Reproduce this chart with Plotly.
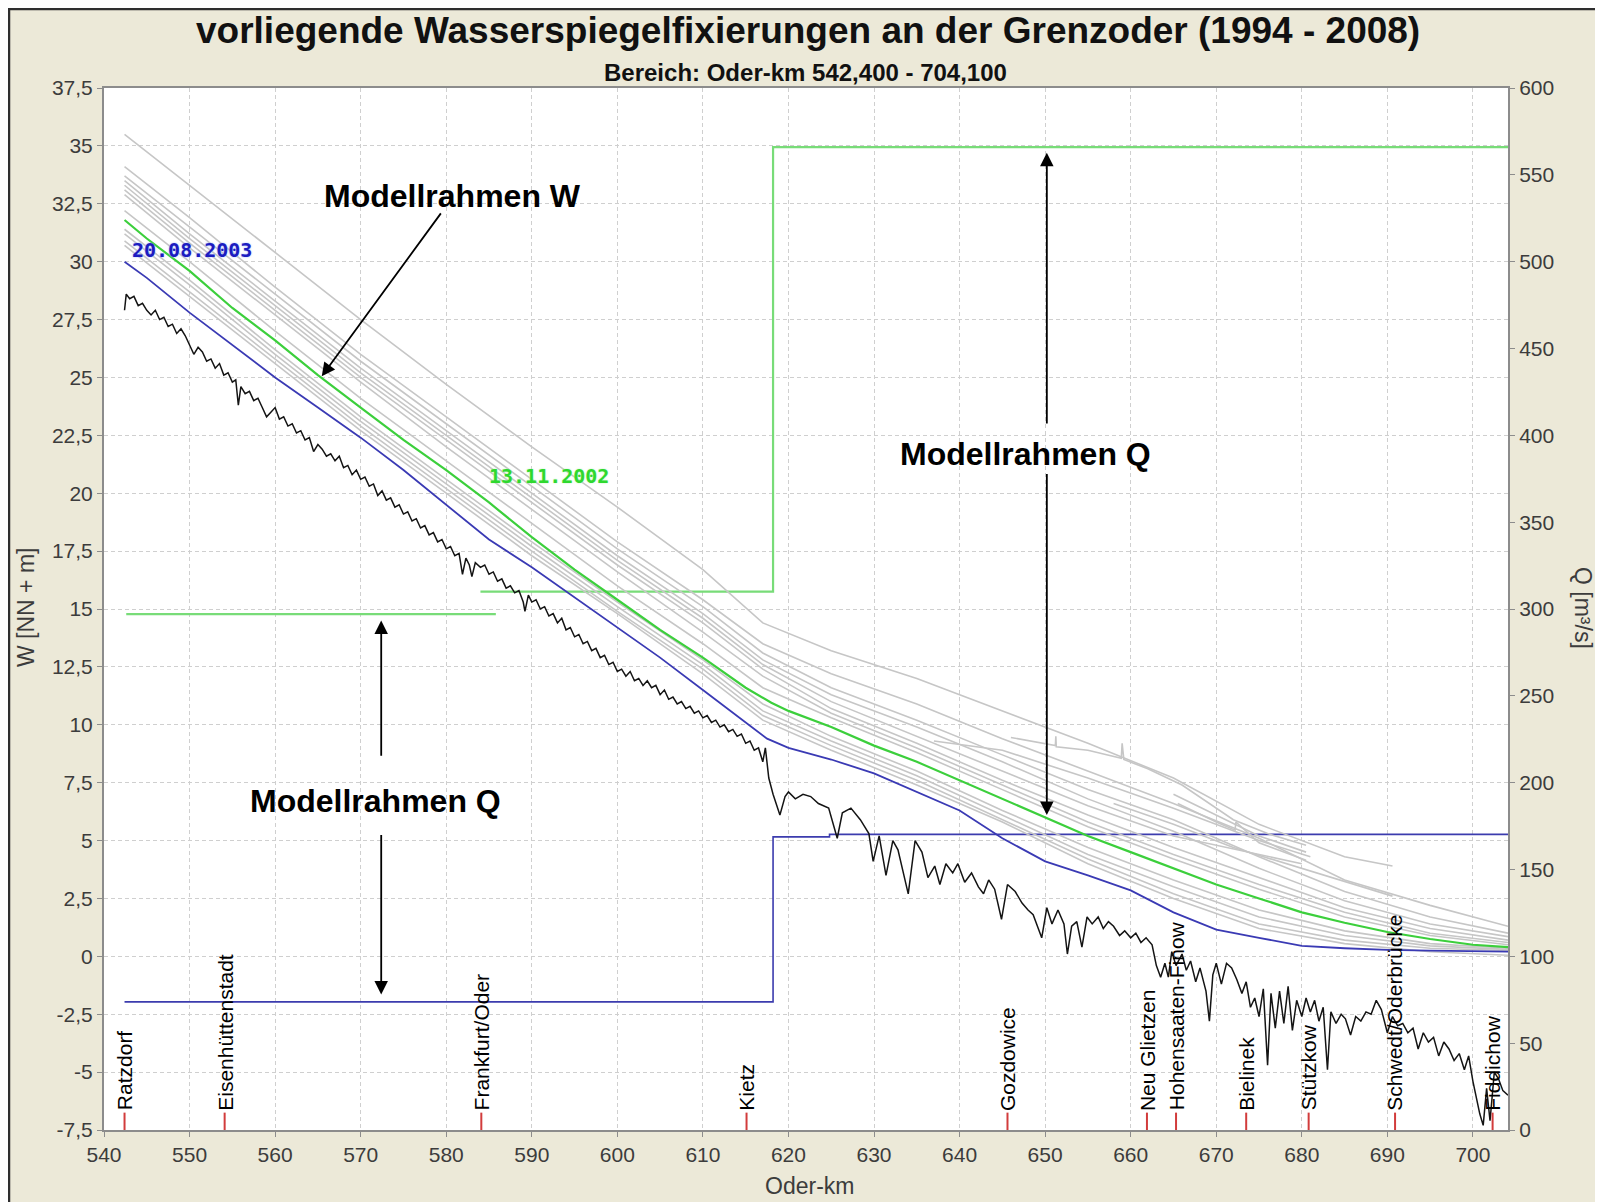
import plotly.graph_objects as go

# ------------------------------------------------------------------ data
X_RANGE = [540, 704.1]
W_RANGE = [-7.5, 37.5]
Q_RANGE = [0, 600]

km_ticks = [540, 550, 560, 570, 580, 590, 600, 610, 620, 630, 640, 650, 660, 670, 680, 690, 700]
w_tickvals = [-7.5, -5, -2.5, 0, 2.5, 5, 7.5, 10, 12.5, 15, 17.5, 20, 22.5, 25, 27.5, 30, 32.5, 35, 37.5]
w_ticktext = ["-7,5", "-5", "-2,5", "0", "2,5", "5", "7,5", "10", "12,5", "15", "17,5", "20",
              "22,5", "25", "27,5", "30", "32,5", "35", "37,5"]
q_ticks = [0, 50, 100, 150, 200, 250, 300, 350, 400, 450, 500, 550, 600]

stations = ["Ratzdorf", "Eisenhüttenstadt", "Frankfurt/Oder", "Kietz", "Gozdowice", "Neu Glietzen",
            "Hohensaaten-Finow", "Bielinek", "Stützkow", "Schwedt/Oderbrücke", "Fiddichow"]
station_km = [542.4, 554.1, 584.1, 615.1, 645.6, 661.9, 665.3, 673.5, 680.8, 690.9, 702.3]

# gray water-level fixings (W in m NN)
gray_km = [542.4, 550, 560, 570, 580, 590, 600, 610, 617, 625, 635, 645, 655, 665, 675, 685, 695, 704.1]
g2_w = [34.1, 31.9, 28.9, 26.0, 23.3, 20.6, 17.9, 15.4, 13.5, 12.2, 10.9, 9.4, 8.0, 6.6, 5.1, 3.3, 2.2, 1.3]
g3_w = [33.7, 31.5, 28.6, 25.7, 23.0, 20.3, 17.6, 15.1, 13.1, 11.6, 10.2, 8.7, 7.2, 5.9, 4.3, 2.8, 1.7, 1.0]
g4_w = [33.5, 31.2, 28.3, 25.4, 22.7, 20.0, 17.3, 14.8, 12.8, 11.3, 9.9, 8.4, 6.8, 5.4, 3.8, 2.4, 1.4, 0.85]
g6_w = [33.1, 30.8, 27.9, 25.0, 22.3, 19.6, 16.9, 14.4, 12.4, 10.7, 9.2, 7.6, 6.1, 4.7, 3.4, 2.1, 1.2, 0.7]
g7_w = [32.9, 30.6, 27.7, 24.8, 22.0, 19.3, 16.6, 14.0, 12.1, 10.5, 9.0, 7.4, 5.8, 4.4, 3.1, 1.9, 1.0, 0.6]
g8_w = [32.2, 30.0, 27.0, 24.1, 21.4, 18.7, 16.0, 13.5, 11.6, 10.3, 8.8, 7.2, 5.6, 4.2, 2.9, 1.7, 0.9, 0.5]
l1_w = [31.4, 29.2, 26.2, 23.3, 20.6, 17.9, 15.3, 12.8, 10.9, 9.5, 8.0, 6.3, 4.7, 3.3, 2.0, 1.1, 0.55, 0.35]
l2_w = [31.2, 29.0, 26.0, 23.1, 20.4, 17.7, 15.1, 12.6, 10.6, 9.3, 7.8, 6.1, 4.4, 3.0, 1.7, 0.9, 0.45, 0.3]
l3_w = [30.9, 28.7, 25.8, 22.9, 20.2, 17.5, 14.9, 12.4, 10.4, 9.1, 7.6, 5.9, 4.2, 2.7, 1.4, 0.7, 0.35, 0.25]
l4_w = [30.7, 28.5, 25.6, 22.7, 20.0, 17.3, 14.8, 12.2, 10.2, 8.9, 7.4, 5.8, 4.0, 2.5, 1.2, 0.55, 0.2, 0.05]

g1_km = [542.4, 550, 560, 570, 580, 590, 600, 610, 617, 625, 635, 645, 655, 665, 675, 685, 690.6]
g1_w = [35.5, 33.3, 30.4, 27.5, 24.7, 22.0, 19.4, 16.7, 14.4, 13.2, 12.0, 10.6, 9.2, 7.7, 5.7, 4.3, 3.9]
g5_km = [542.4, 550, 560, 570, 580, 590, 600, 610, 617, 625, 635, 645, 655, 665, 675, 680]
g5_w = [33.3, 31.0, 28.1, 25.2, 22.5, 19.8, 17.1, 14.6, 12.6, 11.0, 9.5, 8.0, 6.5, 5.2, 4.4, 4.0]

p1_km = [646.0, 650.0, 651.2, 651.25, 651.3, 655.0, 658.9, 659.0, 659.2, 662.0, 666.0, 672.0, 676.0, 680.5]
p1_w = [9.45, 9.2, 9.1, 9.5, 9.05, 8.9, 8.55, 9.2, 8.5, 8.1, 7.4, 5.9, 5.3, 4.8]
p2_km = [637.0, 645.0, 655.0, 665.0, 675.0, 681.0]
p2_w = [9.3, 8.9, 7.7, 6.4, 5.0, 4.3]
p3_km = [665.0, 670.0, 675.0, 680.5]
p3_w = [7.0, 6.1, 5.2, 4.5]
p4_km = [665.5, 670.0, 672.2, 672.3, 675.0, 680.5]
p4_w = [6.6, 5.8, 5.45, 5.8, 4.9, 4.15]
p5_km = [658.0, 665.0, 672.0, 680.0, 686.0, 690.6]
p5_w = [6.6, 5.7, 4.7, 3.8, 3.1, 2.6]

# fixing 13.11.2002 (green) and 20.08.2003 (blue)
green_km = [542.4, 545, 550, 555, 560, 565, 570, 575, 580, 585, 590, 595, 600, 605, 610, 615, 618,
            620, 625, 630, 635, 640, 645, 650, 655, 660, 665, 670, 675, 680, 685, 690, 695, 700, 704.1]
green_w = [31.8, 31.0, 29.6, 28.0, 26.6, 25.1, 23.7, 22.3, 21.0, 19.6, 18.1, 16.7, 15.4, 14.1, 12.9,
           11.6, 10.95, 10.6, 9.9, 9.1, 8.4, 7.6, 6.8, 6.0, 5.2, 4.5, 3.8, 3.1, 2.5, 1.9, 1.45, 1.05,
           0.75, 0.5, 0.4]
blue_km = [542.4, 545, 550, 555, 560, 565, 570, 575, 580, 585, 590, 595, 600, 605, 610, 615, 617.5,
           620, 625, 630, 635, 640, 645, 650, 655, 660, 665, 670, 675, 680, 685, 690, 695, 700, 704.1]
blue_w = [30.0, 29.3, 27.8, 26.4, 25.0, 23.7, 22.4, 21.0, 19.5, 18.0, 16.8, 15.5, 14.2, 12.9, 11.5,
          10.1, 9.4, 9.0, 8.5, 7.9, 7.1, 6.3, 5.1, 4.1, 3.5, 2.85, 1.9, 1.15, 0.8, 0.45, 0.35, 0.28,
          0.25, 0.22, 0.2]

# river bed (black)
bed_km = [542.4, 542.6, 543.0, 543.5, 544.0, 544.5, 545.0, 545.5, 546.0, 546.5, 547.0, 547.5, 548.0,
          548.5, 549.0, 549.5, 550.0, 550.5, 551.0, 551.5, 552.0, 552.5, 553.0, 553.5, 554.0, 554.5,
          555.0, 555.4, 555.7, 556.0, 556.5, 557.0, 557.5, 558.0, 558.5, 559.0, 559.5, 560.0, 560.5,
          561.0, 561.5, 562.0, 562.5, 563.0, 563.5, 564.0, 564.5, 565.0, 565.5, 566.0, 566.5, 567.0,
          567.5, 568.0, 568.5, 569.0, 569.5, 570.0, 570.5, 571.0, 571.5, 572.0, 572.5, 573.0, 573.5,
          574.0, 574.5, 575.0, 575.5, 576.0, 576.5, 577.0, 577.5, 578.0, 578.5, 579.0, 579.5, 580.0,
          580.5, 581.0, 581.5, 581.9, 582.3, 582.7, 583.0, 583.4, 584.0, 584.5, 585.0, 585.5, 586.0,
          586.5, 587.0, 587.5, 588.0, 588.5, 589.0, 589.2, 589.6, 590.0, 590.5, 591.0, 591.5, 592.0,
          592.5, 593.0, 593.5, 594.0, 594.5, 595.0, 595.5, 596.0, 596.5, 597.0, 597.5, 598.0, 598.5,
          599.0, 599.5, 600.0, 600.5, 601.0, 601.5, 602.0, 602.5, 603.0, 603.5, 604.0, 604.5, 605.0,
          605.5, 606.0, 606.5, 607.0, 607.5, 608.0, 608.5, 609.0, 609.5, 610.0, 610.5, 611.0, 611.5,
          612.0, 612.5, 613.0, 613.5, 614.0, 614.5, 615.0, 615.5, 616.0, 616.5, 617.0, 617.3, 617.7,
          618.2, 619.0, 619.6, 620.0, 620.8, 621.7, 622.6, 623.5, 624.7, 625.7, 626.3, 627.3, 628.4,
          629.4, 629.9, 630.6, 631.4, 632.2, 632.8, 633.4, 634.0, 634.8, 635.6, 636.3, 637.1, 637.7,
          638.4, 639.2, 639.8, 640.6, 641.4, 642.2, 642.8, 643.4, 644.1, 644.9, 645.6, 646.5, 647.3,
          648.0, 648.6, 649.6, 650.2, 650.8, 651.5, 652.2, 652.6, 653.1, 653.7, 654.3, 654.9, 655.5,
          656.2, 656.8, 657.4, 658.0, 658.7, 659.3, 660.0, 660.6, 661.2, 661.8, 662.5, 663.0, 663.5,
          664.0, 664.4, 664.8, 665.3, 666.0, 666.5, 667.0, 667.6, 668.1, 668.8, 669.2, 669.6, 670.0,
          670.6, 671.2, 671.8, 672.4, 673.0, 673.5, 674.0, 674.5, 675.0, 675.5, 676.0, 676.4, 676.9,
          677.4, 677.9, 678.4, 678.9, 679.4, 680.0, 680.5, 681.0, 681.5, 682.0, 682.5, 683.0, 683.4,
          684.0, 684.6, 685.1, 685.7, 686.3, 686.9, 687.5, 688.1, 688.7, 689.3, 690.0, 690.6, 691.2,
          691.8, 692.4, 693.0, 693.6, 694.2, 694.8, 695.4, 696.0, 696.6, 697.2, 697.8, 698.4, 699.0,
          699.5, 700.0, 700.4, 700.8, 701.2, 701.6, 702.0, 702.5, 703.0, 703.5, 704.1]
bed_w = [27.9, 28.6, 28.4, 28.5, 28.1, 28.2, 27.9, 27.7, 27.9, 27.5, 27.6, 27.2, 27.3,
         26.9, 27.1, 26.8, 26.4, 26.0, 26.3, 26.1, 25.7, 25.8, 25.4, 25.6, 25.1, 25.2,
         24.8, 24.9, 23.8, 24.6, 24.3, 24.4, 24.0, 24.1, 23.7, 23.3, 23.5, 23.7, 23.2,
         23.3, 22.9, 23.0, 22.6, 22.7, 22.3, 22.4, 21.8, 22.1, 21.9, 21.6, 21.7, 21.4,
         21.6, 21.1, 21.2, 20.8, 21.0, 20.6, 20.7, 20.3, 20.4, 19.9, 20.1, 19.7, 19.8,
         19.4, 19.5, 19.1, 19.2, 18.8, 18.9, 18.5, 18.6, 18.2, 18.3, 17.9, 18.0, 17.6,
         17.7, 17.3, 17.4, 16.5, 17.2, 16.9, 16.4, 17.0, 16.8, 16.9, 16.5, 16.6, 16.2,
         16.3, 15.9, 16.0, 15.7, 15.8, 15.3, 14.9, 15.6, 15.3, 15.4, 15.0, 15.1, 14.7,
         14.8, 14.4, 14.6, 14.1, 14.2, 13.8, 13.9, 13.5, 13.6, 13.2, 13.3, 12.9, 13.0,
         12.6, 12.7, 12.3, 12.4, 12.1, 12.3, 11.9, 12.0, 11.7, 11.9, 11.6, 11.7, 11.3,
         11.5, 11.1, 11.2, 10.9, 11.0, 10.7, 10.8, 10.5, 10.6, 10.3, 10.4, 10.1, 10.2,
         9.9, 10.0, 9.7, 9.8, 9.5, 9.6, 9.2, 9.3, 8.9, 9.0, 8.4, 9.0, 7.7,
         7.0, 6.1, 6.9, 7.1, 6.8, 7.0, 6.9, 6.6, 6.4, 5.1, 6.2, 6.4, 5.9,
         5.3, 4.1, 5.2, 3.5, 5.0, 4.6, 3.6, 2.7, 5.0, 4.5, 3.4, 3.9, 3.1,
         4.0, 3.6, 4.0, 3.2, 3.6, 3.0, 2.7, 3.3, 2.9, 1.6, 3.1, 2.8, 2.3,
         2.0, 1.8, 0.8, 2.1, 1.4, 2.0, 1.4, 0.1, 1.3, 1.5, 0.4, 1.7, 1.4,
         1.7, 1.2, 1.5, 1.3, 0.9, 1.1, 0.8, 1.0, 0.6, 0.8, 0.5, -0.4, -0.9,
         -0.3, -0.9, 0.2, -0.4, 0.1, -0.6, -0.2, -1.1, -0.5, -1.5, -2.8, -0.8, -0.3,
         -1.2, -0.3, -0.5, -1.0, -1.6, -1.1, -2.2, -1.8, -2.6, -1.4, -4.7, -1.6, -3.1,
         -1.5, -2.9, -1.3, -3.2, -1.9, -2.6, -1.8, -2.4, -1.9, -2.8, -2.2, -4.9, -2.4,
         -2.9, -2.5, -2.7, -3.4, -2.6, -2.8, -2.4, -2.5, -1.9, -2.3, -3.3, -2.6, -3.0,
         -2.9, -3.3, -3.1, -4.0, -3.3, -3.7, -3.5, -4.3, -3.7, -4.0, -4.5, -4.2, -4.9,
         -4.3, -5.4, -6.1, -6.8, -7.3, -5.7, -7.1, -5.0, -5.3, -5.8, -6.0]

# discharge frames Q (m3/s)
green_q1_km = [542.6, 585.8]
green_q1 = [297, 297]
green_q2_km = [584.0, 618.2, 704.1]
green_q2 = [310, 566, 566]
blue_q_km = [542.4, 618.2, 624.8, 704.1]
blue_q = [73.8, 168.8, 170.2, 170.2]

# ------------------------------------------------------------------ layout helpers
# the page body has an 8 px margin, so the figure is 8 px smaller than the window
BODY = 8
W_, H_ = 1603 - BODY, 1202 - BODY
ML, MR, MT, MB = 104 - BODY, 95, 88 - BODY, 72
PW, PH = W_ - ML - MR, H_ - MT - MB


def xp(px):  # reference-screenshot pixel -> paper x
    return (px - BODY - ML) / PW


def yp(py):  # reference-screenshot pixel -> paper y
    return (H_ - MB - (py - BODY)) / PH


SANS = "Liberation Sans, Arial, sans-serif"
GRAY = "#c6c6c6"
AX = "#8c8c8c"

fig = go.Figure()

# Q step lines (base axis 'y' -> drawn below the W traces)
fig.add_trace(go.Scatter(x=green_q1_km, y=green_q1, mode="lines", yaxis="y",
                         line=dict(color="#78dc78", width=2.2), hoverinfo="skip"))
fig.add_trace(go.Scatter(x=green_q2_km, y=green_q2, mode="lines", yaxis="y", line_shape="hv",
                         line=dict(color="#78dc78", width=2.2), hoverinfo="skip"))
fig.add_trace(go.Scatter(x=blue_q_km, y=blue_q, mode="lines", yaxis="y", line_shape="hv",
                         line=dict(color="#3c3cae", width=1.6), hoverinfo="skip"))

gray_series = [(g1_km, g1_w), (gray_km, g2_w), (gray_km, g3_w), (gray_km, g4_w), (g5_km, g5_w),
               (gray_km, g6_w), (gray_km, g7_w), (gray_km, g8_w), (gray_km, l1_w), (gray_km, l2_w),
               (gray_km, l3_w), (gray_km, l4_w), (p1_km, p1_w), (p2_km, p2_w), (p3_km, p3_w),
               (p4_km, p4_w), (p5_km, p5_w)]
for kx, wy in gray_series:
    fig.add_trace(go.Scatter(x=kx, y=wy, mode="lines", yaxis="y2",
                             line=dict(color=GRAY, width=1.6), hoverinfo="skip"))

fig.add_trace(go.Scatter(x=green_km, y=green_w, mode="lines", yaxis="y2",
                         line=dict(color="#3ccf3c", width=2.2), hoverinfo="skip"))
fig.add_trace(go.Scatter(x=blue_km, y=blue_w, mode="lines", yaxis="y2",
                         line=dict(color="#3a3ab4", width=1.8), hoverinfo="skip"))
fig.add_trace(go.Scatter(x=bed_km, y=bed_w, mode="lines", yaxis="y2",
                         line=dict(color="#141414", width=1.5), hoverinfo="skip"))

tickfont = dict(family=SANS, size=21, color="#3c3c3c")
fig.update_layout(
    width=W_, height=H_, autosize=False,
    margin=dict(l=ML, r=MR, t=MT, b=MB, pad=0),
    paper_bgcolor="#ECE9D8", plot_bgcolor="white",
    showlegend=False,
    xaxis=dict(range=X_RANGE, tickvals=km_ticks, showgrid=True, gridcolor="#cfcfcf",
               griddash="4px,3px", gridwidth=1, zeroline=False, showline=True, linecolor=AX,
               linewidth=2, mirror=True, ticks="outside", ticklen=5, tickcolor=AX, tickfont=tickfont),
    yaxis=dict(range=Q_RANGE, tickvals=q_ticks, side="right", showgrid=False, zeroline=False,
               showline=True, linecolor=AX, linewidth=2, ticks="outside", ticklen=5, tickcolor=AX,
               tickfont=tickfont),
    yaxis2=dict(range=W_RANGE, overlaying="y", side="left", tickvals=w_tickvals, ticktext=w_ticktext,
                showgrid=True, gridcolor="#cfcfcf", griddash="4px,3px", gridwidth=1, zeroline=False,
                showline=True, linecolor=AX, linewidth=2, ticks="outside", ticklen=5, tickcolor=AX,
                tickfont=tickfont),
)

ann = []
ann.append(dict(text="<b>vorliegende Wasserspiegelfixierungen an der Grenzoder (1994 - 2008)</b>",
                xref="paper", yref="paper", x=xp(808), y=yp(31), xanchor="center", yanchor="middle",
                showarrow=False, font=dict(family=SANS, size=37, color="#111")))
ann.append(dict(text="<b>Bereich: Oder-km 542,400 - 704,100</b>",
                xref="paper", yref="paper", x=xp(805), y=yp(72), xanchor="center", yanchor="middle",
                showarrow=False, font=dict(family=SANS, size=24, color="#111")))
ann.append(dict(text="Oder-km", xref="paper", yref="paper", x=xp(809), y=yp(1186),
                xanchor="center", yanchor="middle", showarrow=False,
                font=dict(family=SANS, size=23, color="#3c3c3c")))
ann.append(dict(text="W [NN + m]", xref="paper", yref="paper", x=xp(26), y=yp(608), textangle=-90,
                xanchor="center", yanchor="middle", showarrow=False,
                font=dict(family=SANS, size=23, color="#3c3c3c")))
ann.append(dict(text="Q [m³/s]", xref="paper", yref="paper", x=xp(1583), y=yp(608), textangle=90,
                xanchor="center", yanchor="middle", showarrow=False,
                font=dict(family=SANS, size=23, color="#3c3c3c")))

for name, km in zip(stations, station_km):
    ann.append(dict(text=name, x=km, y=-6.75, xref="x", yref="y2", textangle=-90,
                    xanchor="center", yanchor="bottom", showarrow=False,
                    font=dict(family=SANS, size=21, color="#000")))

ann.append(dict(text="<b>20.08.2003</b>", x=550.25, y=30.5, xref="x", yref="y2", showarrow=False,
                font=dict(family="DejaVu Sans Mono, monospace", size=20, color="#1c1cc0",
                          shadow="0px 0px 2px #9db4ff")))
ann.append(dict(text="<b>13.11.2002</b>", x=592.0, y=20.75, xref="x", yref="y2", showarrow=False,
                font=dict(family="DejaVu Sans Mono, monospace", size=20, color="#2ed82e",
                          shadow="0px 0px 2px #b8f0b8")))

big = dict(family=SANS, size=32, color="#000")
ann.append(dict(text="<b>Modellrahmen W</b>", x=580.75, y=32.85, xref="x", yref="y2",
                showarrow=False, font=big))
ann.append(dict(text="<b>Modellrahmen Q</b>", x=647.7, y=21.7, xref="x", yref="y2",
                showarrow=False, font=big))
ann.append(dict(text="<b>Modellrahmen Q</b>", x=571.7, y=6.72, xref="x", yref="y2",
                showarrow=False, font=big))

arrows = [
    (565.45, 25.05, 579.5, 32.15),
    (650.2, 34.7, 650.2, 22.95),
    (650.2, 6.1, 650.2, 20.9),
    (572.4, 14.5, 572.4, 8.6),
    (572.4, -1.65, 572.4, 5.3),
]
for hx, hy, tx, ty in arrows:
    ann.append(dict(text="", x=hx, y=hy, ax=tx, ay=ty, xref="x", yref="y2", axref="x", ayref="y2",
                    showarrow=True, arrowhead=2, arrowsize=1.5, arrowwidth=1.8, arrowcolor="#000",
                    standoff=0, startstandoff=0))

fig.update_layout(annotations=ann)

shapes = []
shapes.append(dict(type="rect", xref="paper", yref="paper", x0=xp(9), x1=xp(1640), y0=yp(1260), y1=yp(9),
                   fillcolor="rgba(0,0,0,0)", line=dict(color="#2e2e2e", width=2.5), layer="below"))
for km in station_km:
    shapes.append(dict(type="line", xref="x", yref="y2", x0=km, x1=km, y0=-7.5, y1=-6.75,
                       line=dict(color="#d23c3c", width=2)))
fig.update_layout(shapes=shapes)

fig.write_html("out.html", config={"displayModeBar": False})
